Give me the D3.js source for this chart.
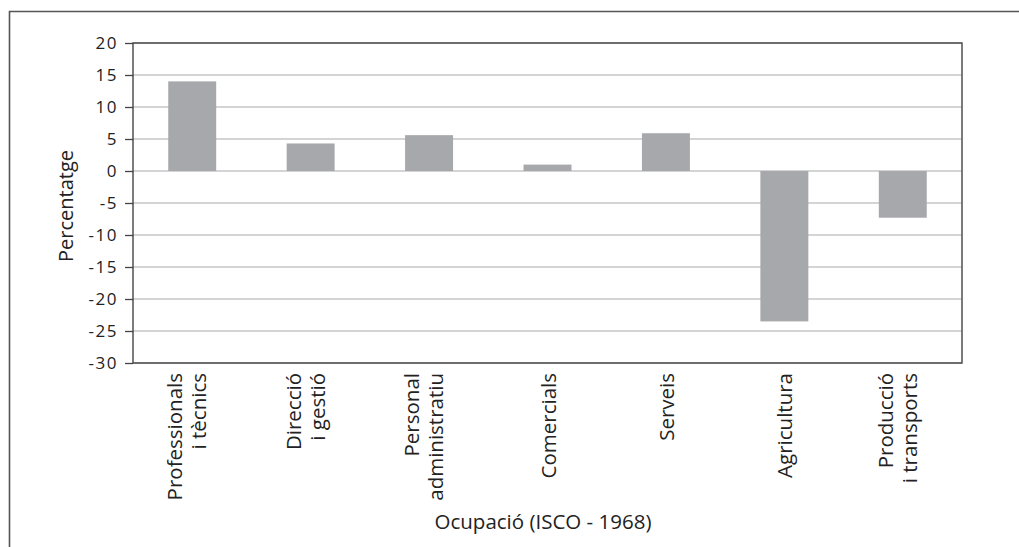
<!DOCTYPE html>
<html><head><meta charset="utf-8">
<script src="https://cdn.jsdelivr.net/npm/d3@7"></script>
<style>body{margin:0;background:#fff}svg{display:block}</style>
</head><body>
<svg id="c" width="1019" height="547"></svg>
<script>
const categories = [["Professionals","i tècnics"],["Direcció","i gestió"],["Personal","administratiu"],["Comercials"],["Serveis"],["Agricultura"],["Producció","i transports"]];
const values = [14.0, 4.3, 5.6, 1.0, 5.9, -23.5, -7.3];
const yTicks = [20,15,10,5,0,-5,-10,-15,-20,-25,-30];
const yTitle = "Percentatge";
const xTitle = "Ocupació (ISCO - 1968)";

const svg = d3.select("#c");
const m = {l:133, t:43, r:962, b:363};
const keys = categories.map((c,i)=>i);
const x = d3.scaleBand().domain(keys).range([m.l, m.r]).paddingInner(0.595).paddingOuter(0.2975);
const y = d3.scaleLinear().domain([-30,20]).range([m.b, m.t]);

// outer frame (open right/bottom)
svg.append("path").attr("d", `M9.5,560V11.5H1030`).attr("fill","none").attr("stroke","#555").attr("stroke-width",1.6);

// gridlines
svg.append("g").selectAll("line").data(yTicks).join("line")
  .attr("x1", m.l).attr("x2", m.r).attr("y1", d=>y(d)).attr("y2", d=>y(d))
  .attr("stroke","#c6c6c6").attr("stroke-width",1.3);

// bars
svg.append("g").selectAll("rect").data(values).join("rect")
  .attr("x", (d,i)=>x(i)).attr("width", x.bandwidth())
  .attr("y", d=>y(Math.max(0,d))).attr("height", d=>Math.abs(y(d)-y(0)))
  .attr("fill","#a7a8ab");

// plot border
svg.append("rect").attr("x", m.l).attr("y", m.t).attr("width", m.r-m.l).attr("height", m.b-m.t)
  .attr("fill","none").attr("stroke","#444").attr("stroke-width",1.4);

// y axis
const ya = d3.axisLeft(y).tickValues(yTicks).tickSize(8).tickPadding(7).tickFormat(d3.format("d"));
const yg = svg.append("g").attr("transform",`translate(${m.l},0)`).call(ya);
yg.select(".domain").remove();
yg.selectAll(".tick line").attr("stroke","#444").attr("stroke-width",1.3);
yg.selectAll(".tick text").attr("font-family","'Open Sans'").attr("font-size",17).attr("fill","#222")
  .attr("letter-spacing", "1.5px").text(d=>d<0?"-"+Math.abs(d):d);

// x category labels
const xl = svg.append("g");
categories.forEach((lines,i)=>{
  const cx = x(i) + x.bandwidth()/2;
  const t = xl.append("text").attr("transform",`translate(${cx},373) rotate(-90)`)
    .attr("text-anchor","end").attr("font-family","'Open Sans'").attr("font-size",20.5).attr("fill","#222");
  const offs = lines.length===1 ? [8] : [-10, 14];
  lines.forEach((ln,j)=>t.append("tspan").attr("x",0).attr("y",offs[j]).text(ln));
});

// titles
svg.append("text").attr("transform",`translate(73,${(m.t+m.b)/2 + 3}) rotate(-90)`)
  .attr("text-anchor","middle").attr("font-family","'Open Sans'").attr("font-size",20).attr("fill","#222").text(yTitle);
svg.append("text").attr("x", 543).attr("y", 529)
  .attr("text-anchor","middle").attr("font-family","'Open Sans'").attr("font-size",20.5).attr("fill","#222").text(xTitle);
</script>
</body></html>
